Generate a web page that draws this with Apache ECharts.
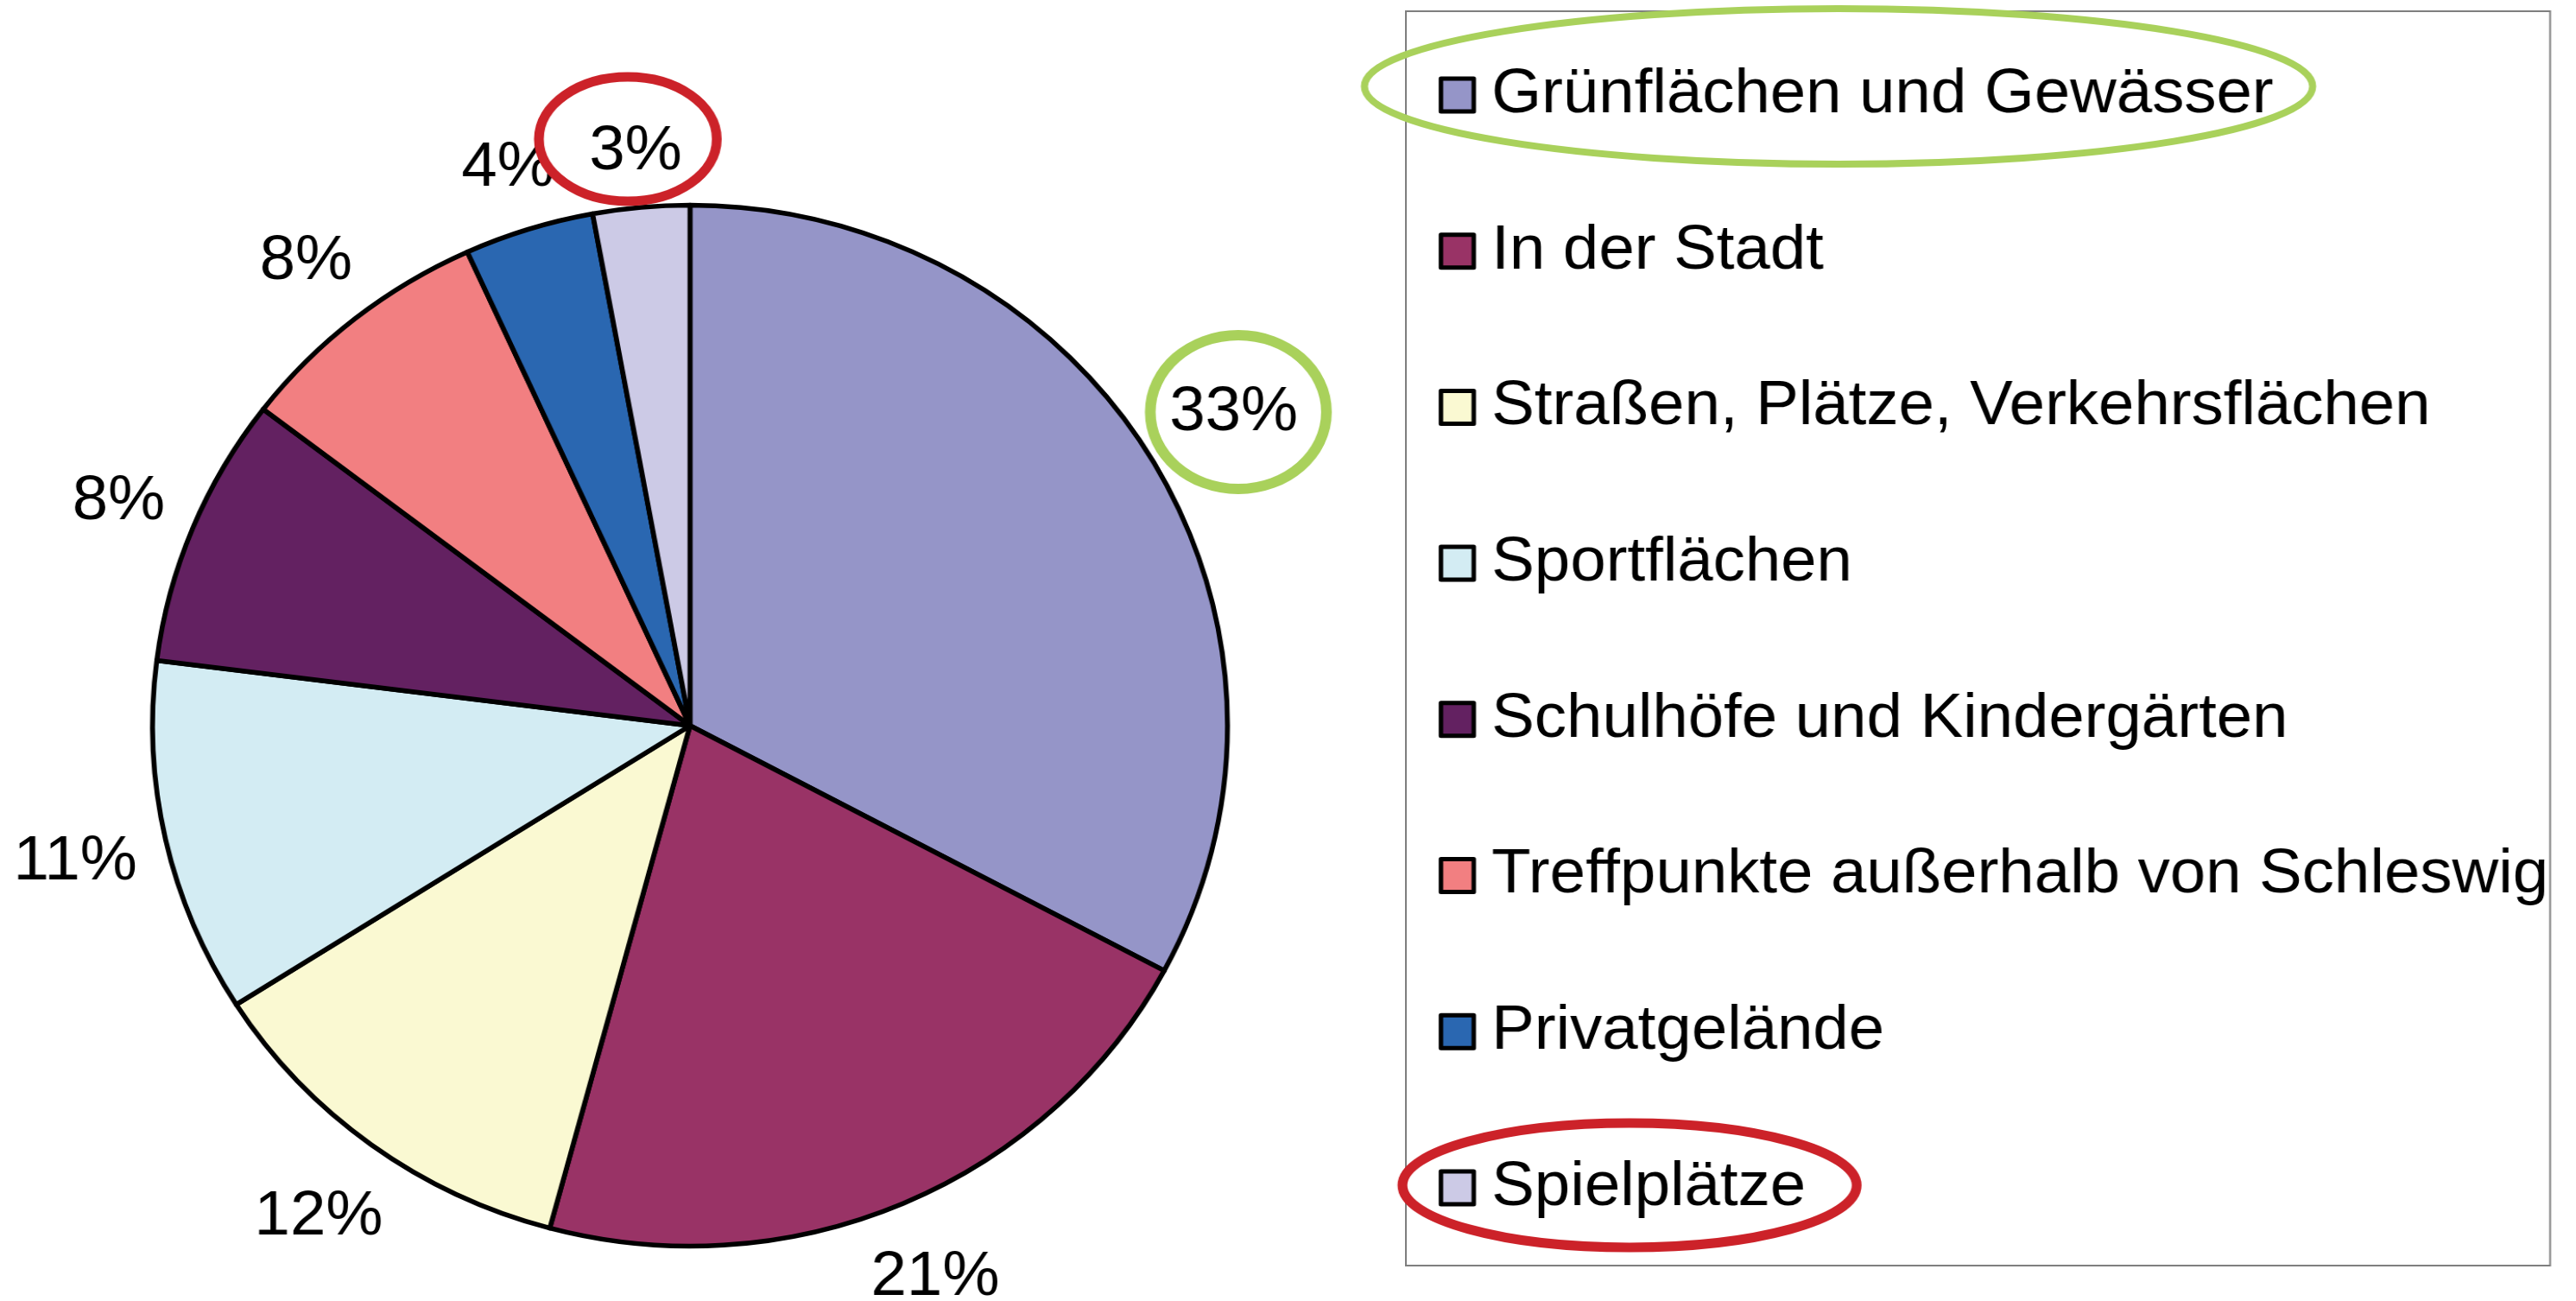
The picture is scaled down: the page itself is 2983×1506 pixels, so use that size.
<!DOCTYPE html>
<html>
<head>
<meta charset="utf-8">
<script src="https://cdn.jsdelivr.net/npm/echarts@6/dist/echarts.min.js"></script>
<style>
html,body{margin:0;padding:0;background:#fff;overflow:hidden;}
#chart{height:1506px;transform-origin:0 0;}
</style>
</head>
<body>
<div id="chart"></div>
<script>
const categories = [
  'Grünflächen und Gewässer',
  'In der Stadt',
  'Straßen, Plätze, Verkehrsflächen',
  'Sportflächen',
  'Schulhöfe und Kindergärten',
  'Treffpunkte außerhalb von Schleswig',
  'Privatgelände',
  'Spielplätze'
];
const values = [32.8, 21.4, 11.8, 11.0, 8.4, 7.8, 3.9, 2.9];
const colors = ['#9595C8', '#993366', '#FAF9D2', '#D3ECF3', '#632161', '#F27F81', '#2A67B1', '#CCCAE6'];

// the reference is slightly wider than tall (elliptical pie): stretch horizontally
const S = 1.033;
const el = document.getElementById('chart');
el.style.width = (2983 / S) + 'px';
el.style.transform = 'scaleX(' + S + ')';
const X = v => v / S;

const FONT = '"Liberation Sans", Arial, sans-serif';
const CX = X(799), CY = 840, R = 602.5, GAP = 28;
const total = values.reduce((a, b) => a + b, 0);
const midAngles = values.map((v, i) => {
  const before = values.slice(0, i).reduce((a, b) => a + b, 0);
  return 2 * Math.PI * (before + v / 2) / total;
});

const pieData = categories.map((c, i) => ({ name: c, value: values[i], itemStyle: { color: colors[i] } }));

const chart = echarts.init(el, null, { renderer: 'canvas' });
chart.setOption({
  backgroundColor: '#fff',
  animation: false,
  legend: {
    orient: 'vertical',
    left: X(1666),
    top: 70,
    padding: 0,
    itemWidth: X(38),
    itemHeight: 38,
    itemGap: 100.7,
    icon: 'rect',
    selectedMode: false,
    data: categories,
    itemStyle: { borderColor: '#000', borderWidth: 5 },
    textStyle: { fontFamily: FONT, fontSize: 72, lineHeight: 80, color: '#000', padding: [0, 0, 0, 15] }
  },
  series: [
    {
      type: 'pie',
      center: [CX, CY],
      radius: R,
      startAngle: 90,
      clockwise: true,
      silent: true,
      avoidLabelOverlap: false,
      itemStyle: { borderColor: '#000', borderWidth: 5.5 },
      label: {
        show: true,
        position: 'outside',
        fontFamily: FONT,
        fontSize: 72,
        color: '#000',
        formatter: p => Math.round(p.percent) + '%'
      },
      labelLine: { show: false },
      // "outside end" placement: the label box keeps a constant gap to the pie edge
      labelLayout: function (p) {
        const a = midAngles[p.dataIndex];
        const ux = Math.sin(a), uy = -Math.cos(a);
        const w = p.labelRect.width, h = p.labelRect.height;
        const d = R + GAP + (w / 2) * Math.abs(ux) + (h / 2) * Math.abs(uy);
        return { x: CX + ux * d, y: CY + uy * d + 4, align: 'center', verticalAlign: 'middle' };
      },
      data: pieData
    }
  ],
  graphic: [
    { type: 'rect', z: 100, shape: { x: X(1628), y: 13, width: X(1325), height: 1452 }, style: { fill: 'none', stroke: '#7f7f7f', lineWidth: 2 } },
    { type: 'ellipse', z: 101, shape: { cx: X(2129), cy: 100, rx: X(549), ry: 90 }, style: { fill: 'none', stroke: '#A9D15B', lineWidth: 8 } },
    { type: 'ellipse', z: 101, shape: { cx: X(1434), cy: 477, rx: X(102), ry: 89 }, style: { fill: 'none', stroke: '#A9D15B', lineWidth: 12 } },
    { type: 'ellipse', z: 101, shape: { cx: X(727), cy: 161, rx: X(103), ry: 72 }, style: { fill: 'none', stroke: '#CC2229', lineWidth: 11 } },
    { type: 'ellipse', z: 101, shape: { cx: X(1887), cy: 1372, rx: X(263), ry: 72 }, style: { fill: 'none', stroke: '#CC2229', lineWidth: 11 } }
  ]
});
</script>
</body>
</html>
